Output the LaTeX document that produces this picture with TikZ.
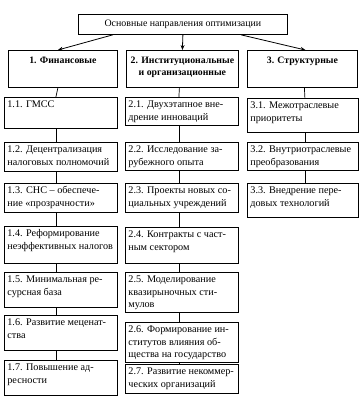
\documentclass[tikz,border=0pt]{standalone}
\usepackage{fontspec}
\setmainfont{Liberation Serif}
\usetikzlibrary{arrows.meta}
\tikzset{
  box/.style={draw, line width=0.8pt, inner xsep=2pt, inner ysep=0pt, anchor=north west, font=\fontsize{10.2}{12.6}\selectfont},
  link/.style={line width=0.7pt},
  arr/.style={line width=0.8pt, -{Stealth[length=5pt,width=4pt]}}
}
\newcommand\bx[6]{\node[box] (#1) at (#2,#3) {\parbox[c][#5pt][t]{\dimexpr#4pt-4pt\relax}{\vspace{1.5pt}\hspace{1pt}\begin{tabular}{@{}l@{}}#6\end{tabular}}};}
\newcommand\tx[6]{\node[box, font=\fontsize{9.8}{12.6}\selectfont] (#1) at (#2,#3) {\parbox[c][#5pt][t]{\dimexpr#4pt-4pt\relax}{\centering\vspace{4pt}\bfseries\begin{tabular}{@{}c@{}}#6\end{tabular}}};}
\begin{document}
\begin{tikzpicture}[x=1pt,y=-1pt]
\useasboundingbox (0,0) rectangle (364,418);
\node[box, minimum width=209pt, minimum height=20pt, inner sep=0pt, font=\fontsize{9.9}{12}\selectfont] (top) at (78,14) {Основные направления оптимизации};
\tx{L1}{8}{50}{109}{37}{1. Финансовые}
\tx{L2}{126}{50}{112}{37}{2. Институциональные\\и организационные}
\tx{L3}{247}{50}{110}{37}{3. Структурные}
% column 1
\bx{a1}{4}{97}{113}{31}{1.1. ГМСС}
\bx{a2}{4}{142}{113}{29}{1.2. Децентрализация\\налоговых полномочий}
\bx{a3}{4}{183}{113}{29}{1.3. СНС – обеспече-\\ние «прозрачности»}
\bx{a4}{4}{226}{113}{37}{1.4. Реформирование\\неэффективных налогов}
\bx{a5}{4}{272}{113}{35}{1.5. Минимальная ре-\\сурсная база}
\bx{a6}{4}{315}{113}{35}{1.6. Развитие меценат-\\ства}
\bx{a7}{4}{360}{113}{35}{1.7. Повышение ад-\\ресности}
% column 2
\bx{b1}{125}{97}{113}{28}{2.1. Двухэтапное вне-\\дрение инноваций}
\bx{b2}{125}{142}{113}{28}{2.2. Исследование за-\\рубежного опыта}
\bx{b3}{125}{183}{113}{29}{2.3. Проекты новых со-\\циальных учреждений}
\bx{b4}{125}{227}{113}{36}{2.4. Контракты с част-\\ным сектором}
\bx{b5}{125}{272}{113}{40}{2.5. Моделирование\\квазирыночных сти-\\мулов}
\bx{b6}{125}{322}{113}{40}{2.6. Формирование ин-\\ститутов влияния об-\\щества на государство}
\bx{b7}{125}{364}{113}{29}{2.7. Развитие некоммер-\\ческих организаций}
% column 3
\bx{c1}{247}{98}{111}{34}{3.1. Межотраслевые\\приоритеты}
\bx{c2}{247}{142}{111}{28}{3.2. Внутриотраслевые\\преобразования}
\bx{c3}{247}{183}{111}{34}{3.3. Внедрение пере-\\довых технологий}
% arrows
\draw[arr] ([xshift=-70pt]top.south) -- ([xshift=-5pt]L1.north);
\draw[arr] (top.south) -- ([xshift=0pt]L2.north);
\draw[arr] ([xshift=58pt]top.south) -- ([xshift=3pt]L3.north);
% links
\foreach \u/\v in {L1/a1,a1/a2,a2/a3,a3/a4,a4/a5,a5/a6,a6/a7}
  \draw[link] ([xshift=-5pt]\u.south) -- ([xshift=-5pt]\v.north);
\foreach \u/\v in {L2/b1,b1/b2,b2/b3,b3/b4,b4/b5,b5/b6,b6/b7}
  \draw[link] ([xshift=-3pt]\u.south) -- ([xshift=-3pt]\v.north);
\foreach \u/\v in {L3/c1,c1/c2,c2/c3}
  \draw[link] ([xshift=2pt]\u.south) -- ([xshift=2pt]\v.north);
\end{tikzpicture}
\end{document}
